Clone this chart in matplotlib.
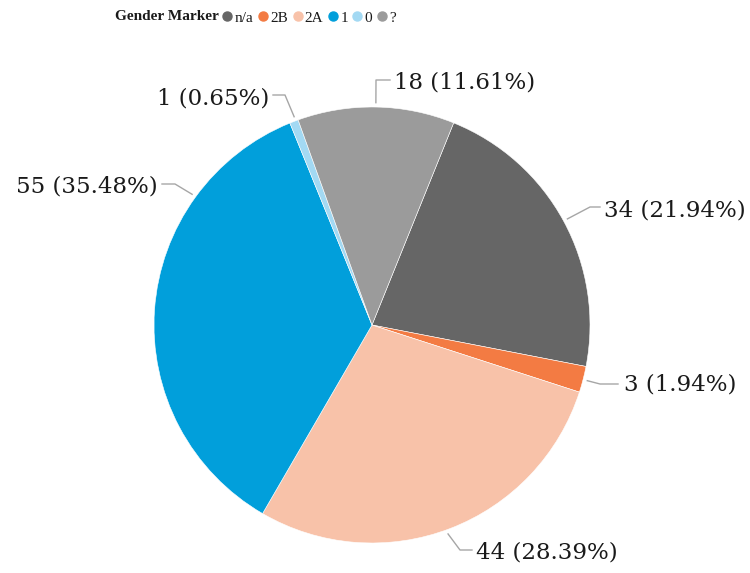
import numpy as np
import matplotlib.pyplot as plt
from matplotlib.lines import Line2D

# data
categories = ['n/a', '2B', '2A', '1', '0', '?']
counts = [34, 3, 44, 55, 1, 18]
colors = ['#666666', '#F37B43', '#F8C2A9', '#019FDB', '#A3D9F3', '#9B9B9B']

W, H = 750, 573
CX, CY, R = 372, 325, 218  # pie centre / radius in pixels


def px(x, y):
    # pixel position -> data units (radius = 1)
    return (x - CX) / R, (CY - y) / R


fig = plt.figure(figsize=(W / 100, H / 100), dpi=100)
ax = fig.add_axes([0, 0, 1, 1])

wedges, _ = ax.pie(counts, colors=colors, startangle=68, counterclock=False,
                   radius=1, wedgeprops=dict(edgecolor='white', linewidth=0.4))

ax.set_xlim(-CX / R, (W - CX) / R)
ax.set_ylim(-(H - CY) / R, CY / R)
ax.set_aspect('equal')
ax.axis('off')

total = sum(counts)
labels = [f'{c} ({c / total * 100:.2f}%)' for c in counts]

# label layout: anchor angle (deg clockwise from top), elbow pixel, end pixel, text pixel, alignment
layout = [
    (61.5, (590, 207), (600, 207), (604, 210), 'left'),
    (104.5, (600, 384), (618, 384), (624, 385), 'left'),
    (160.0, (460, 550), (472, 550), (476, 552), 'left'),
    (306.0, (175, 184), (162, 184), (158, 186), 'right'),
    (339.5, (285, 95), (273, 95), (269, 98), 'right'),
    (1.0, (376, 80), (390, 80), (394, 82), 'left'),
]

for lab, (ang, elbow, end, tpos, ha) in zip(labels, layout):
    a = np.deg2rad(ang)
    sx, sy = 1.02 * np.sin(a), 1.02 * np.cos(a)
    ex, ey = px(*elbow)
    fx, fy = px(*end)
    ax.plot([sx, ex, fx], [sy, ey, fy], color='#A6A6A6', lw=1.0)
    tx, ty = px(*tpos)
    ax.text(tx, ty, lab, ha=ha, va='center', fontsize=16.5,
            family='DejaVu Serif', color='#1a1a1a')

# legend
handles = [Line2D([], [], marker='o', ls='', color=c, markersize=6.5) for c in colors]
fig.legend(handles, categories, ncol=6, loc='center left', bbox_to_anchor=(224 / W, 1 - 18 / H),
           frameon=False, handlelength=0.45, handletextpad=0.25, columnspacing=0.4,
           borderpad=0, borderaxespad=0,
           prop={'family': 'Liberation Serif', 'size': 11}, labelcolor='#1a1a1a')
fig.text(219 / W, 1 - 17 / H, 'Gender Marker', ha='right', va='center',
         family='Liberation Serif', weight='bold', fontsize=11, color='#1a1a1a')

fig.savefig('out.png', dpi=100, facecolor='white')
